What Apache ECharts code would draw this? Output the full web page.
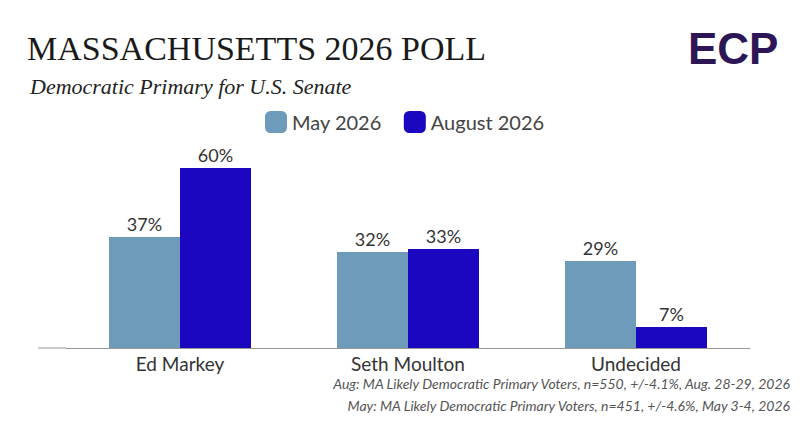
<!DOCTYPE html>
<html><head><meta charset="utf-8">
<script src="https://cdn.jsdelivr.net/npm/echarts@6/dist/echarts.min.js"></script>
<style>html,body{margin:0;padding:0;background:#fff}#c{width:800px;height:421px}</style>
</head><body><div id="c"></div>
<script>
const categories = ["Ed Markey", "Seth Moulton", "Undecided"];
const may2026 = [37, 32, 29];
const aug2026 = [60, 33, 7];
const seriesNames = ["May 2026", "August 2026"];

const chart = echarts.init(document.getElementById("c"), null, { renderer: "svg" });
const serif = "'Liberation Serif', 'DejaVu Serif', serif";
const sans = "Lato, 'Open Sans', sans-serif";
const lbl = { show: true, position: "top", fontFamily: sans, fontSize: 18, color: "#333", formatter: "{c}%", distance: 4 };

chart.setOption({
  animation: false,
  title: [
    { text: "MASSACHUSETTS 2026 POLL", left: 22, top: 26, textStyle: { fontFamily: serif, fontSize: 34, fontWeight: "normal", color: "#1a1a1a" } },
    { text: "Democratic Primary for U.S. Senate", left: 25, top: 70, textStyle: { fontFamily: serif, fontSize: 22, fontStyle: "italic", fontWeight: "normal", color: "#222" } }
  ],
  legend: {
    top: 106, left: 260, itemWidth: 22, itemHeight: 22, itemGap: 22,
    textStyle: { fontFamily: sans, fontSize: 20, color: "#444" },
    data: seriesNames
  },
  grid: { left: 66, right: 50, top: 168, bottom: 73 },
  xAxis: {
    type: "category", data: categories,
    axisTick: { show: false },
    axisLine: { lineStyle: { color: "#999" } },
    axisLabel: { fontFamily: sans, fontSize: 19, color: "#333", margin: 6 }
  },
  yAxis: { type: "value", min: 0, max: 60, show: false, splitLine: { show: false } },
  series: [
    { name: seriesNames[0], type: "bar", data: may2026, barWidth: 71, barGap: "0%", itemStyle: { color: "#6f9bbb" }, label: lbl },
    { name: seriesNames[1], type: "bar", data: aug2026, barWidth: 71, itemStyle: { color: "#1a07bf" }, label: lbl }
  ],
  graphic: [
    { type: "line", shape: { x1: 38, y1: 348, x2: 66, y2: 348 }, style: { stroke: "#999", lineWidth: 1 } },
    { type: "text", left: 688, top: 26, style: { text: "ECP", font: "bold 44px 'Liberation Sans', sans-serif", fill: "#2d1656" } },
    { type: "text", right: 10, top: 376, style: { text: "Aug: MA Likely Democratic Primary Voters, n=550, +/-4.1%, Aug. 28-29, 2026", font: "italic 14px Lato, sans-serif", fill: "#555", textAlign: "right" } },
    { type: "text", right: 10, top: 398, style: { text: "May: MA Likely Democratic Primary Voters, n=451, +/-4.6%, May 3-4, 2026", font: "italic 14px Lato, sans-serif", fill: "#555", textAlign: "right" } }
  ]
});
</script></body></html>
